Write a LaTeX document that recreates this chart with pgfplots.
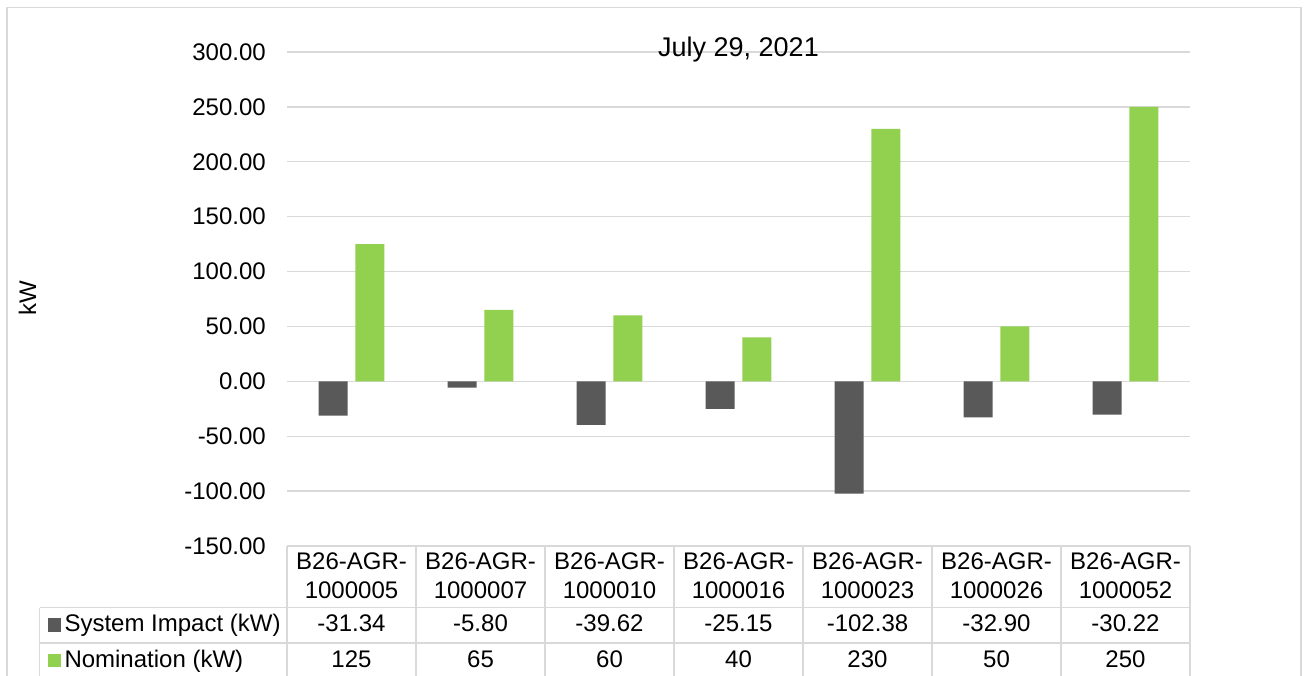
\documentclass[border=0pt]{standalone}
\usepackage{fontspec}
\setmainfont{Liberation Sans}
\usepackage{pgfplots}
\usepackage{pgfplotstable}
\pgfplotsset{compat=1.18}

\definecolor{gridgray}{HTML}{D9D9D9}
\definecolor{impgray}{HTML}{595959}
\definecolor{nomgreen}{HTML}{92D050}

% idx: category position, id: resource number suffix
\pgfplotstableread{
idx id      impact  nom
0   1000005 -31.34  125
1   1000007 -5.80   65
2   1000010 -39.62  60
3   1000016 -25.15  40
4   1000023 -102.38 230
5   1000026 -32.90  50
6   1000052 -30.22  250
}\datatable

\begin{document}
\fontsize{24}{28}\selectfont%
\begin{tikzpicture}
\useasboundingbox (0pt,0pt) rectangle (1304pt,675pt);
\clip (0pt,0pt) rectangle (1304pt,675pt);

\begin{axis}[
  at={(287pt,129pt)}, anchor=south west,
  scale only axis, width=903pt, height=494pt,
  xmin=-0.5, xmax=6.5, ymin=-150, ymax=300,
  ytick={-150,-100,...,300},
  xtick=\empty,
  ymajorgrids,
  grid style={line width=1.3pt, color=gridgray},
  axis line style={draw=none},
  major tick length=0pt,
  tick style={draw=none},
  yticklabel={\pgfmathprintnumber[fixed,fixed zerofill,precision=2,assume math mode=true]{\tick}},
  yticklabel style={inner sep=0pt, xshift=-21pt, font=\fontsize{24}{28}\selectfont},
  ybar, bar width=0.225,
  clip=false,
]
\addplot[fill=impgray, draw=none, bar shift=-0.143] table[x=idx, y=impact] {\datatable};
\addplot[fill=nomgreen, draw=none, bar shift=0.143] table[x=idx, y=nom] {\datatable};
\end{axis}

\begin{scope}[x=1pt, y=1pt, font=\fontsize{24}{28}\selectfont]
  % chart area frame
  \draw[gridgray, line width=1.5pt] (7,-10) -- (7,667.7) -- (1301,667.7) -- (1301,-10);

  % title and axis label
  \node[anchor=base, font=\fontsize{27}{30}\selectfont] at (738.5,618.3) {July 29, 2021};
  \node[rotate=90] at (27.5,377) {kW};

  % data table grid
  \draw[gridgray, line width=1.3pt] (287,129) -- (1190,129);
  \draw[gridgray, line width=1.3pt] (39.5,67.5) -- (1190,67.5);
  \draw[gridgray, line width=1.3pt] (39.5,32) -- (1190,32);
  \draw[gridgray, line width=1.3pt] (39.5,67.5) -- (39.5,-10);
  \foreach \k in {0,...,7} {
    \draw[gridgray, line width=1.3pt] ({287+129*\k},129) -- ({287+129*\k},-10);
  }

  % series keys
  \fill[impgray] (47.7,43.5) rectangle (61,57);
  \node[anchor=base west, inner sep=0pt] at (64.3,43.5) {System Impact (kW)};
  \fill[nomgreen] (47.7,8) rectangle (61,21.5);
  \node[anchor=base west, inner sep=0pt] at (64.3,7.7) {Nomination (kW)};

  % table cells
  \foreach \i in {0,...,6} {
    \pgfmathsetmacro\cx{287+129*(\i+0.5)}
    \pgfplotstablegetelem{\i}{id}\of\datatable \let\vid\pgfplotsretval
    \pgfplotstablegetelem{\i}{impact}\of\datatable \let\vimp\pgfplotsretval
    \pgfplotstablegetelem{\i}{nom}\of\datatable \let\vnom\pgfplotsretval
    \node[anchor=base] at (\cx,105) {B26-AGR-};
    \node[anchor=base] at (\cx,77) {\vid};
    \node[anchor=base] at (\cx,43.5) {\pgfmathprintnumber[fixed,fixed zerofill,precision=2,assume math mode=true]{\vimp}};
    \node[anchor=base] at (\cx,7.7) {\pgfmathprintnumber[assume math mode=true]{\vnom}};
  }
\end{scope}
\end{tikzpicture}
\end{document}
